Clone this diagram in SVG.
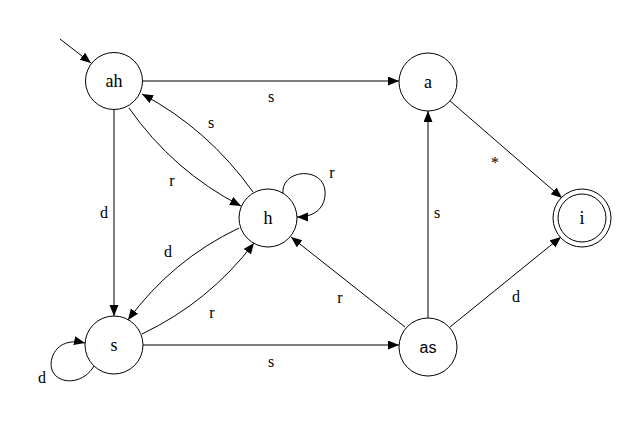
<svg xmlns="http://www.w3.org/2000/svg" width="640" height="428" viewBox="0 0 640 428">
<defs>
<style>
.node circle{fill:#fff;stroke:#000;stroke-width:1}
.lbl{font-size:16px;fill:#000;text-anchor:middle}
.nl{font-size:18px}
.edge{fill:none;stroke:#000;stroke-width:1;marker-end:url(#arr)}
</style>
<marker id="arr" markerUnits="userSpaceOnUse" markerWidth="12" markerHeight="10" refX="11" refY="4.5" orient="auto">
<path d="M0,0 L11,4.5 L0,9 Z" fill="#000"/>
</marker>
</defs>
<rect width="640" height="428" fill="#fff"/>
<g id="connectors" font-family="'Liberation Serif', 'Times New Roman', serif">
<path class="edge" d="M60,39 L91,63"/>
<path class="edge" d="M142,81 L399,81"/>
<path class="edge" d="M449,100 L562,198"/>
<path class="edge" d="M129,108 Q173,171 241,206"/>
<path class="edge" d="M253,192 Q208,129 142,94"/>
<path class="edge" d="M114,110 L114,316"/>
<path class="edge" d="M239,228 Q172,260 128,320"/>
<path class="edge" d="M142,334 Q209,302 254,243"/>
<path class="edge" d="M143,345 L399,345"/>
<path class="edge" d="M428,318 L428,111"/>
<path class="edge" d="M405,327 L291,237"/>
<path class="edge" d="M450,327 L561,237"/>
<path class="edge" d="M283,194 C280,168 328,165 325,196 C323,212 310,217 297,217"/>
<path class="edge" d="M94,366 C80,390 45,383 52,358 C57,342 72,340 85,343"/>
<text class="lbl" x="271" y="102">s</text>
<text class="lbl" x="495" y="168">*</text>
<text class="lbl" x="211" y="128">s</text>
<text class="lbl" x="172" y="186">r</text>
<text class="lbl" x="332" y="178">r</text>
<text class="lbl" x="104" y="218">d</text>
<text class="lbl" x="437" y="218">s</text>
<text class="lbl" x="168" y="257">d</text>
<text class="lbl" x="212" y="318">r</text>
<text class="lbl" x="340" y="303">r</text>
<text class="lbl" x="516" y="302">d</text>
<text class="lbl" x="271" y="367">s</text>
<text class="lbl" x="42" y="383">d</text>
</g>
<g font-family="'Liberation Serif', 'Times New Roman', serif">
<g id="node-ah" class="node"><circle cx="114" cy="81" r="28.5"/><text class="lbl nl" x="114" y="87">ah</text></g>
<g id="node-a" class="node"><circle cx="428" cy="82" r="29"/><text class="lbl nl" x="428" y="88">a</text></g>
<g id="node-h" class="node"><circle cx="268" cy="218" r="29"/><text class="lbl nl" x="268" y="224">h</text></g>
<g id="node-i" class="node"><circle cx="582" cy="218" r="29"/><circle cx="582" cy="218" r="24"/><text class="lbl nl" x="582" y="224">i</text></g>
<g id="node-s" class="node"><circle cx="114" cy="345" r="29"/><text class="lbl nl" x="114" y="351">s</text></g>
<g id="node-as" class="node"><circle cx="428" cy="347" r="29"/><text class="lbl" font-family="'Liberation Sans', Arial, sans-serif" font-size="17" x="428" y="353">as</text></g>
</g>
</svg>
